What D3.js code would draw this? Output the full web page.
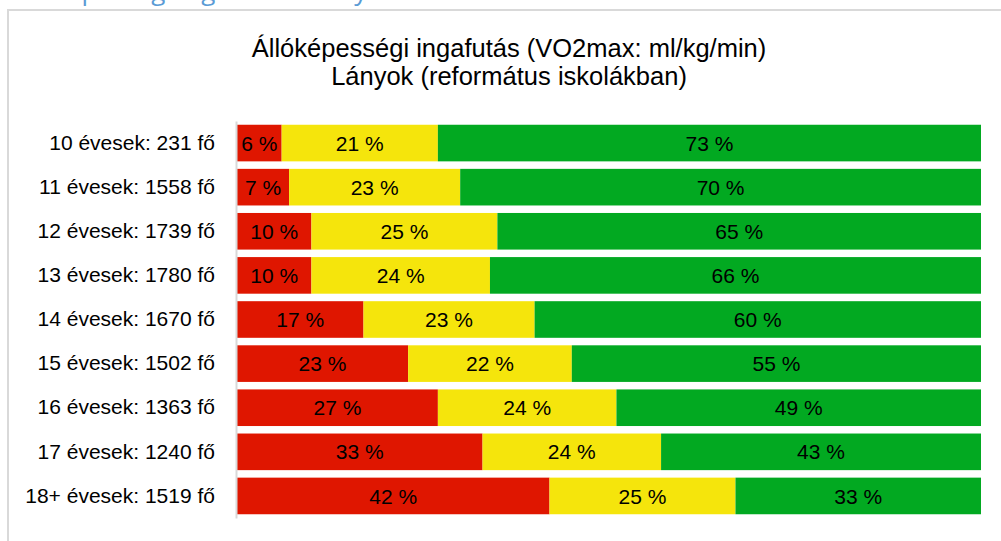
<!DOCTYPE html>
<html>
<head>
<meta charset="utf-8">
<script src="https://cdn.jsdelivr.net/npm/d3@7"></script>
<style>
  body { margin: 0; background: #fff; }
  svg { display: block; font-family: "Liberation Sans", Arial, sans-serif; }
</style>
</head>
<body>
<div id="chart"></div>
<script>
// chart size = window size
let svgWidth = 1001;
let svgHeight = 541;

// categories (row labels) and series values in percent
let groups = ['10 évesek: 231 fő', '11 évesek: 1558 fő', '12 évesek: 1739 fő', '13 évesek: 1780 fő',
              '14 évesek: 1670 fő', '15 évesek: 1502 fő', '16 évesek: 1363 fő', '17 évesek: 1240 fő',
              '18+ évesek: 1519 fő'];
let redValues = [6, 7, 10, 10, 17, 23, 27, 33, 42];
let yellowValues = [21, 23, 25, 24, 23, 22, 24, 24, 25];
let greenValues = [73, 70, 65, 66, 60, 55, 49, 43, 33];

let seriesKeys = ['red', 'yellow', 'green'];
let seriesColors = { red: '#df1600', yellow: '#f5e50c', green: '#02a921' };

let titleLines = ['Állóképességi ingafutás (VO2max: ml/kg/min)', 'Lányok (református iskolákban)'];

// table for the stack layout
let table = groups.map((g, i) => ({
    group: g,
    red: redValues[i],
    yellow: yellowValues[i],
    green: greenValues[i]
}));

let svg = d3.select('#chart')
            .append('svg')
            .attr('width', svgWidth)
            .attr('height', svgHeight);

// heading above the chart box, cut off by the top of the page (only descenders show)
svg.append('text')
   .attr('x', 8)
   .attr('y', 0)
   .attr('fill', '#5b9bd5')
   .style('font-family', '"Open Sans", sans-serif')
   .style('font-size', '26px')
   .text('Állóképességi ingafutás – lányok');

// chart frame
svg.append('rect')
   .attr('x', 8)
   .attr('y', 10)
   .attr('width', svgWidth + 20)
   .attr('height', svgHeight + 20)
   .attr('fill', '#fff')
   .attr('stroke', '#d9d9d9')
   .attr('stroke-width', 2);

// title
svg.selectAll('.title')
   .data(titleLines)
   .enter()
   .append('text')
   .attr('class', 'title')
   .attr('x', 509)
   .attr('y', (d, i) => 57 + i * 28)
   .attr('text-anchor', 'middle')
   .style('font-size', '25.5px')
   .attr('fill', '#000')
   .text(d => d);

// scales
let xScale = d3.scaleLinear()
               .domain([0, 100])
               .range([237, 981]);

let yScale = d3.scaleBand()
               .domain(groups)
               .range([121, 518])
               .paddingInner(0.17)
               .paddingOuter(0.085);

let stacked = d3.stack().keys(seriesKeys)(table);

// bars
let layers = svg.selectAll('.layer')
                .data(stacked)
                .enter()
                .append('g')
                .attr('class', 'layer')
                .attr('fill', d => seriesColors[d.key]);

layers.selectAll('rect')
      .data(d => d)
      .enter()
      .append('rect')
      .attr('x', d => xScale(d[0]))
      .attr('y', d => yScale(d.data.group))
      .attr('width', d => xScale(d[1]) - xScale(d[0]))
      .attr('height', yScale.bandwidth());

// value labels
layers.selectAll('text')
      .data(d => d)
      .enter()
      .append('text')
      .attr('x', d => (xScale(d[0]) + xScale(d[1])) / 2)
      .attr('y', d => yScale(d.data.group) + yScale.bandwidth() / 2)
      .attr('dy', '0.36em')
      .attr('text-anchor', 'middle')
      .attr('fill', '#000')
      .style('font-size', '21px')
      .text(d => (d[1] - d[0]) + ' %');

// category axis
let yAxis = d3.axisLeft(yScale).tickSize(0).tickPadding(21);
let axisG = svg.append('g')
               .attr('transform', 'translate(236, 0)')
               .call(yAxis);
axisG.select('.domain').attr('stroke', '#d9d9d9').attr('stroke-width', 2);
axisG.selectAll('.tick text')
     .style('font-size', '21px')
     .style('font-family', '"Liberation Sans", Arial, sans-serif')
     .attr('fill', '#000');
</script>
</body>
</html>
